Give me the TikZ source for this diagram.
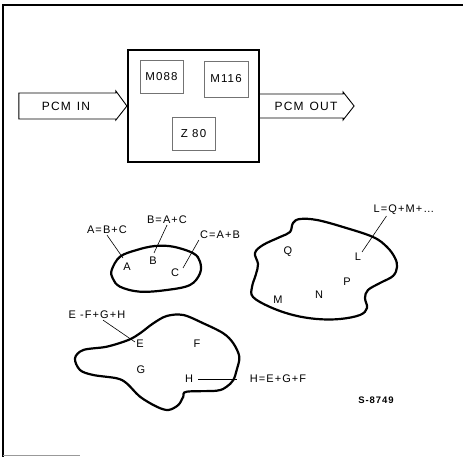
\documentclass[tikz,border=0pt]{standalone}
\usepackage{fontspec}
\setmainfont{Liberation Sans}
\newfontfamily\widefont[LetterSpace=10]{Liberation Sans}
\usetikzlibrary{positioning}

\begin{document}
\begin{tikzpicture}[
  x=1pt, y=-1pt,
  bigbox/.style={draw, line width=2.2pt, minimum width=131pt, minimum height=112pt},
  chip/.style={draw=black!55, line width=0.5pt, minimum width=43pt, minimum height=33pt,
               font=\widefont\fontsize{11.5}{13}\selectfont},
  pcm/.style={draw, line width=0.9pt},
  sig/.style={font=\widefont\fontsize{12}{14}\selectfont},
  blob/.style={draw, line width=2.2pt},
  elem/.style={inner sep=1pt, font=\fontsize{11}{13}\selectfont},
  eqn/.style={inner sep=1pt, font=\widefont\fontsize{11}{13}\selectfont},
  lead/.style={line width=0.6pt}
]
  \useasboundingbox (0,0) rectangle (463,457);
  % frame
  \draw[line width=1.2pt] (463,5) -- (3,5) -- (3,457);
  \draw[black!40, line width=0.5pt] (3,455) -- (80,455);

  % processor board
  \node[bigbox] (cpu) at (193.5,106) {};
  \node[chip] (m088) at (161.5,77) {M088};
  \node[chip, minimum width=44pt, minimum height=36pt] (m116) at (226,79) {M116};
  \node[chip] (z80) at (193.5,133.5) {Z 80};
  \draw[pcm] (cpu.west) -- +(-11,-15) -- +(-11,-13) -- +(-108,-13)
    -- +(-108,13) -- +(-11,13) -- +(-11,14) -- cycle;
  \node[sig] (pcmin) at (66,106) {PCM\enspace IN};
  \draw[pcm] (cpu.east) +(0,-12) -- +(83,-12) -- +(83,-14) -- +(94,0)
    -- +(83,14) -- +(83,12) -- +(0,12);
  \node[sig] (pcmout) at (306,106) {PCM\enspace OUT};

  % set A B C
  \draw[blob] plot[smooth cycle, tension=0.6] coordinates {
    (111.7,270) (120,256.7) (136.7,250) (155,246) (173.3,246.7) (193.3,253.3)
    (200,261.7) (200,273.3) (190,285) (166.7,290) (140,291.7) (120,286.7) (112.7,278.3)};
  \node[elem] (nA) at (127,267) {A};
  \node[elem] (nB) at (153,261) {B};
  \node[elem] (nC) at (175,273) {C};
  \node[eqn] (eqA) at (107,230) {A=B+C};
  \node[eqn] (eqB) at (167,220) {B=A+C};
  \node[eqn] (eqC) at (220,235) {C=A+B};
  \coordinate (tA) at (123,258);
  \coordinate (tB) at (154,253);
  \coordinate (tC) at (183,268);
  \draw[lead] (eqA.south) -- (tA);
  \draw[lead] (eqB.south) -- (tB);
  \draw[lead] (eqC.south west) -- (tC);

  % set L M N P Q
  \draw[blob] plot[smooth cycle, tension=0.6] coordinates {
    (255,253) (263,245) (280,237) (290,232) (293,223) (300,219) (317,220)
    (343,227) (373,237) (387,247) (395,258) (397,267) (393,276) (380,283)
    (368,290) (365,298) (367,308) (360,315) (340,319) (317,319) (293,315)
    (270,307) (253,297) (252,287) (256,274) (258,264)};
  \node[elem] (nQ) at (288,252) {Q};
  \node[elem] (nL) at (358,257) {L};
  \node[elem] (nM) at (278,300) {M};
  \node[elem] (nN) at (319,295) {N};
  \node[elem] (nP) at (347,282) {P};
  \node[eqn] (eqL) at (404,210) {L=Q+M+\dots};
  \coordinate (tL) at (362,252);
  \draw[lead] (eqL.south west) ++(14,0) -- (tL);

  % set E F G H
  \draw[blob] plot[smooth cycle, tension=0.55] coordinates {
    (75,358.3) (83.3,350) (106.7,346.7) (128.3,340) (140,333.3) (153.3,323.3)
    (166.7,316) (183.3,315) (203.3,323.3) (223.3,333.3) (233.3,343.3)
    (239.3,356.7) (236.7,370) (233.3,380) (226.7,386.7) (216.7,390.7)
    (186.7,391.7) (183.3,396.7) (178.3,405) (168.3,410) (156.7,406.7)
    (140,396.7) (126.7,383.3) (116.7,378.3) (93.3,375) (80,370)};
  \node[elem] (nE) at (140,344) {E};
  \node[elem] (nF) at (197,344) {F};
  \node[elem] (nG) at (141,370) {G};
  \node[elem] (nH) at (189,379) {H};
  \node[eqn] (eqE) at (97,315) {E -F+G+H};
  \node[eqn] (eqH) at (278,379) {H=E+G+F};
  \coordinate (tE) at (135,342);
  \coordinate (tH) at (237,379);
  \draw[lead] (eqE.south) ++(6,0) -- (tE);
  \draw[lead] (nH.east) ++(4,0) -- (tH);

  \node[font=\widefont\bfseries\fontsize{9.5}{11}\selectfont] (fig) at (376,400) {S-8749};
\end{tikzpicture}
\end{document}
